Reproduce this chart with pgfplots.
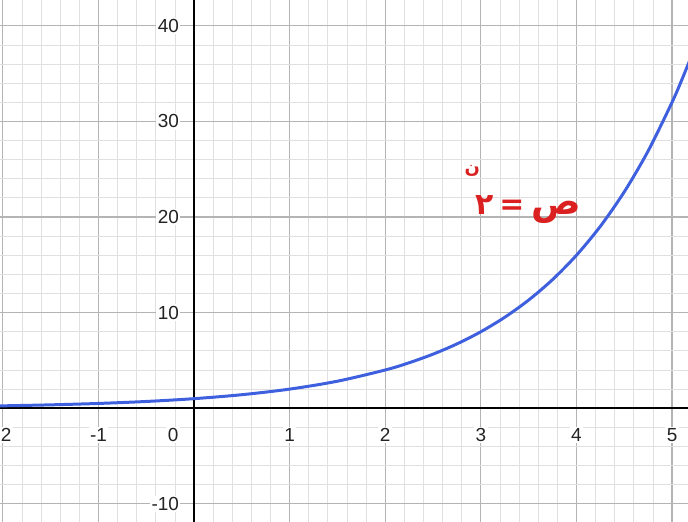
\documentclass[border=0pt]{standalone}
\usepackage{pgfplots}
\pgfplotsset{compat=1.18}
\usepackage{fontspec}
\setmainfont{Liberation Sans}
\newfontfamily\arabicfont[Script=Arabic]{DejaVu Sans}
\TeXXeTstate=1
\definecolor{curveblue}{RGB}{62,96,222}
\definecolor{labelred}{RGB}{218,32,32}
\definecolor{majorgrid}{RGB}{180,180,180}
\definecolor{minorgrid}{RGB}{224,224,224}
\definecolor{ticktext}{RGB}{35,35,35}
\tikzset{ticklab/.style={fill=white, inner sep=1.5pt, text=ticktext, font=\fontsize{19}{19}\selectfont}}
\begin{document}
\begin{tikzpicture}
\begin{axis}[
  scale only axis,
  width=688bp, height=522bp,
  xmin=-2.03, xmax=5.167,
  ymin=-11.9, ymax=42.7,
  axis line style={draw=none},
  xtick={-2,-1,...,5},
  ytick={-10,0,10,20,30,40},
  minor x tick num=4,
  minor y tick num=4,
  major tick length=0pt, minor tick length=0pt,
  xticklabels={}, yticklabels={},
  grid=both,
  major grid style={majorgrid, line width=1.1pt},
  minor grid style={minorgrid, line width=0.8pt},
  clip=true,
]
% coordinate axes
\draw[black, line width=1.6pt] (axis cs:-2.1,0) -- (axis cs:5.3,0);
\draw[black, line width=1.6pt] (axis cs:0,-12) -- (axis cs:0,43);
% tick labels on the axes
\node[ticklab] at (axis cs:-2,-2.8) {-2};
\node[ticklab] at (axis cs:-1,-2.8) {-1};
\node[ticklab] at (axis cs:-0.22,-2.8) {0};
\node[ticklab] at (axis cs:1,-2.8) {1};
\node[ticklab] at (axis cs:2,-2.8) {2};
\node[ticklab] at (axis cs:3,-2.8) {3};
\node[ticklab] at (axis cs:4,-2.8) {4};
\node[ticklab] at (axis cs:5,-2.8) {5};
\node[ticklab, anchor=east] at (axis cs:-0.14,-10) {-10};
\node[ticklab, anchor=east] at (axis cs:-0.14,10) {10};
\node[ticklab, anchor=east] at (axis cs:-0.14,20) {20};
\node[ticklab, anchor=east] at (axis cs:-0.14,30) {30};
\node[ticklab, anchor=east] at (axis cs:-0.14,40) {40};
% y = 2^x
\addplot[curveblue, line width=3pt, smooth] coordinates {
(-2.1,0.233) (-2,0.25) (-1.5,0.354) (-1,0.5) (-0.5,0.707) (0,1)
(0.5,1.414) (1,2) (1.5,2.828) (2,4) (2.25,4.757) (2.5,5.657)
(2.75,6.727) (3,8) (3.25,9.514) (3.5,11.314) (3.75,13.454) (4,16)
(4.25,19.027) (4.5,22.627) (4.75,26.909) (5,32) (5.1,34.297) (5.2,36.758)
};
% equation label
\node[text=labelred, anchor=base east, inner sep=0pt, font=\arabicfont\bfseries\fontsize{30}{30}\selectfont]
  at (axis cs:4.05,20.3) {\beginR{\fontsize{37}{37}\selectfont ص}\hspace{7bp}=\hspace{6bp}٢\endR};
\node[text=labelred, font=\arabicfont\bfseries\fontsize{18}{18}\selectfont]
  at (axis cs:2.91,24.8) {ن};
\end{axis}
\pgfresetboundingbox
\path[use as bounding box] (0,0) rectangle (688bp,522bp);
\end{tikzpicture}
\end{document}
